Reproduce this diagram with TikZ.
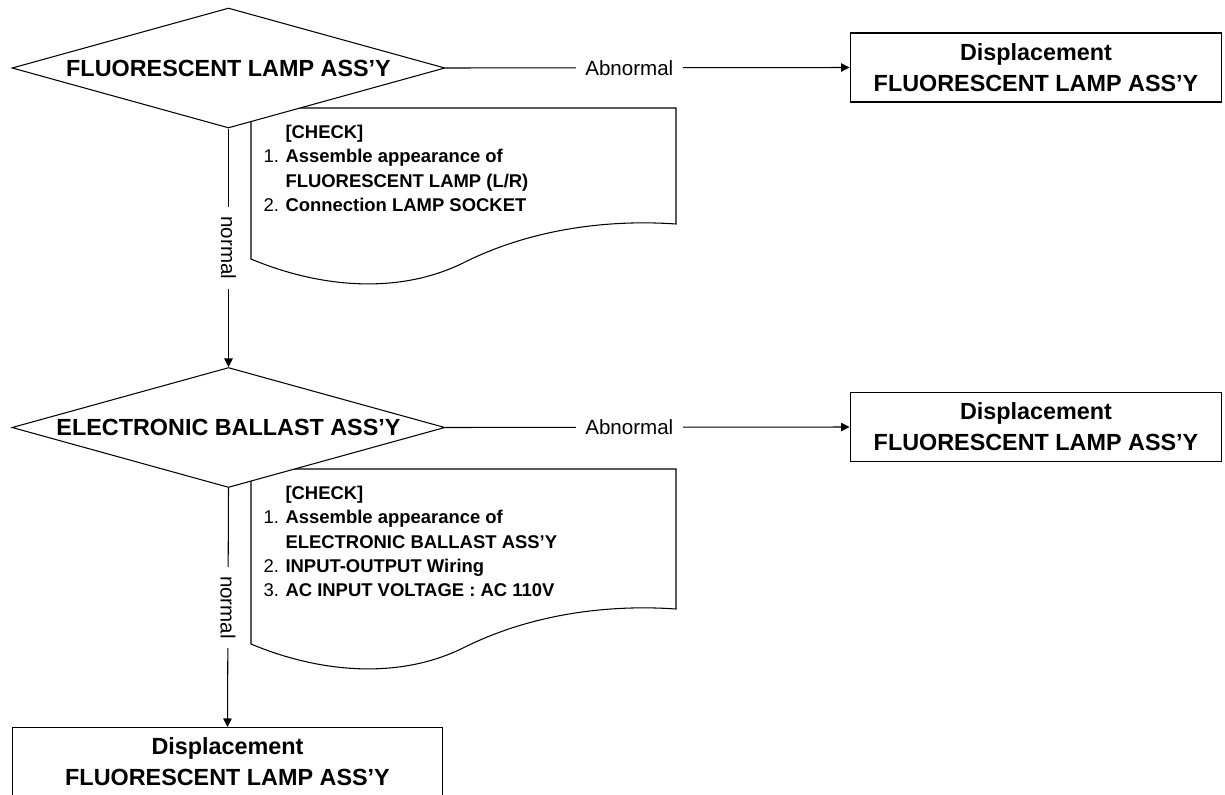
\documentclass[tikz,border=0pt]{standalone}
\usepackage{fontspec}
\setmainfont{Liberation Sans}
\usetikzlibrary{arrows.meta,shapes.geometric}
\newcommand\itemno[1]{\makebox[0.44cm][l]{\mdseries#1}}

\begin{document}
\begin{tikzpicture}[x=0.02cm, y=-0.02cm, >={Triangle[length=1.7mm,width=1.7mm]}, line width=0.6pt,
  every node/.style={font=\fontsize{13.3}{17.5}\selectfont\bfseries},
  decision/.style={draw, diamond, fill=white, aspect=3.6, inner sep=0pt, minimum width=8.66cm, minimum height=2.4cm},
  dispbox/.style={draw, fill=white, align=center, inner sep=0pt, minimum width=7.44cm, minimum height=1.38cm},
  checklist/.style={anchor=north west, align=left, inner sep=0pt, font=\fontsize{10.5}{13.7}\selectfont\bfseries},
  lbl/.style={fill=white, inner xsep=0.19cm, inner ysep=0.05cm, font=\fontsize{11.7}{14}\selectfont}]
\useasboundingbox (0,0) rectangle (1225,795); \clip (0,0) rectangle (1225,795);
\draw[fill=white] (251,108) -- (676,108) -- (676,224) .. controls (620,220) and (540,225) .. (465,262) .. controls (400,295) and (320,288) .. (251,259) -- cycle;
\draw[fill=white] (251,469) -- (676,469) -- (676,609) .. controls (620,605) and (540,610) .. (465,647) .. controls (400,680) and (320,673) .. (251,644) -- cycle;
\node[decision] (lamp) at (228.5,68) {FLUORESCENT LAMP ASS'Y};
\node[decision] (ballast) at (228.5,427.5) {ELECTRONIC BALLAST ASS'Y};
\node[checklist] (check1) at (263,125) {\itemno{}[CHECK]\\ \itemno{1.}Assemble appearance of\\ \itemno{}FLUORESCENT LAMP (L/R)\\ \itemno{2.}Connection LAMP SOCKET};
\node[checklist] (check2) at (263,486) {\itemno{}[CHECK]\\ \itemno{1.}Assemble appearance of\\ \itemno{}ELECTRONIC BALLAST ASS'Y\\ \itemno{2.}INPUT-OUTPUT Wiring\\ \itemno{3.}AC INPUT VOLTAGE : AC 110V};
\node[dispbox] (disp1) at (1036,67.5) {Displacement\\FLUORESCENT LAMP ASS'Y};
\node[dispbox] (disp2) at (1036,427) {Displacement\\FLUORESCENT LAMP ASS'Y};
\node[dispbox, minimum width=8.62cm] (disp3) at (227.5,762) {Displacement\\FLUORESCENT LAMP ASS'Y};
\draw[->] (lamp.east) -- (disp1.west) node[lbl, pos=.455] {Abnormal};
\draw[->] (ballast.east) -- (disp2.west) node[lbl, pos=.455] {Abnormal};
\draw[->] (lamp.south) -- (ballast.north) node[lbl, midway, rotate=-90] {normal};
\draw[->] (ballast.south) -- (disp3.north) node[lbl, midway, rotate=-90] {normal};
\end{tikzpicture}
\end{document}
